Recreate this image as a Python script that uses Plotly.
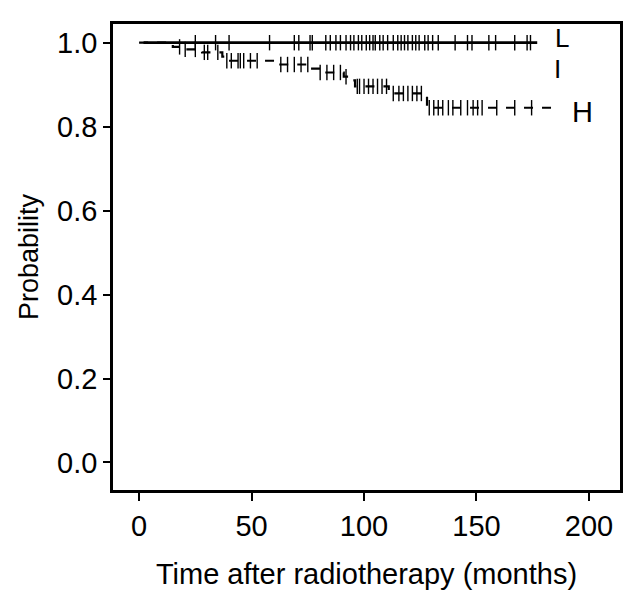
import plotly.graph_objects as go

# Kaplan-Meier step data (time in months, survival probability)
h_times = [0, 15, 20, 28, 37, 38.5, 60, 76, 80, 91, 94, 96, 111, 128, 185]
h_surv = [1.0, 0.99, 0.984, 0.977, 0.967, 0.957, 0.948, 0.938, 0.929, 0.919, 0.91, 0.896, 0.879, 0.845, 0.845]

l_times = [2, 177]
l_surv = [1.0, 1.0]

i_times = [2, 173]
i_surv = [1.0, 1.0]

# censoring marks
l_censor = [25, 34, 40, 58, 69, 71, 76, 77, 83, 85, 87.5, 89.5, 92, 94, 95.5, 97.5, 99, 101,
            102.5, 104, 105, 107, 108.5, 110.5, 113, 115, 116.5, 118, 119.5, 121.5, 123,
            124.5, 127, 128.5, 130.5, 133, 140.5, 146, 148, 155.5, 158.5, 167, 172.5, 174]
h_censor = [18, 20.5, 25, 29, 30.5, 35, 39, 41, 44, 45, 46.5, 49.5, 52.5, 63, 66, 69, 72, 75,
            80.5, 83.5, 86.5, 89.5, 92, 97, 98, 100, 102, 104, 106, 108, 110, 113, 115.5, 117.5,
            119.5, 121.5, 123.5, 125.5, 129, 131, 133, 135, 137.5, 139.5, 143, 146, 148.5, 150.5,
            152.5, 159, 167, 174.5]

x_ticks = [0, 50, 100, 150, 200]
y_ticks = [0.0, 0.2, 0.4, 0.6, 0.8, 1.0]
y_tick_labels = ["0.0", "0.2", "0.4", "0.6", "0.8", "1.0"]

curve_labels = ["L", "I", "H"]
label_x = [188, 186, 197]
label_y = [1.012, 0.938, 0.836]
label_size = [26, 26, 29]


def surv_at(times, surv, t):
    v = surv[0]
    for tt, ss in zip(times, surv):
        if tt <= t:
            v = ss
    return v


fig = go.Figure()
fig.add_trace(go.Scatter(x=l_times, y=l_surv, mode="lines", line=dict(color="black", width=2.8),
                         showlegend=False))
fig.add_trace(go.Scatter(x=i_times, y=i_surv, mode="lines", line=dict(color="black", width=1.5),
                         showlegend=False))
fig.add_trace(go.Scatter(x=h_times, y=h_surv, mode="lines", line_shape="hv",
                         line=dict(color="black", width=2.2, dash="dash"), showlegend=False))
fig.add_trace(go.Scatter(x=l_censor, y=[1.0] * len(l_censor), mode="markers",
                         marker=dict(symbol="line-ns", size=11, line=dict(color="black", width=1.4)),
                         showlegend=False))
fig.add_trace(go.Scatter(x=h_censor, y=[surv_at(h_times, h_surv, t) for t in h_censor], mode="markers",
                         marker=dict(symbol="line-ns", size=11, line=dict(color="black", width=1.4)),
                         showlegend=False))

for txt, lx, ly, ls in zip(curve_labels, label_x, label_y, label_size):
    fig.add_annotation(x=lx, y=ly, text=txt, showarrow=False, xanchor="center", yanchor="middle",
                       font=dict(family="Liberation Sans, Arial", size=ls, color="black"))

fig.update_layout(
    width=632, height=590,
    margin=dict(l=105, r=20, t=16, b=100),
    plot_bgcolor="white", paper_bgcolor="white",
    font=dict(family="Liberation Sans, Arial", color="black"),
)
fig.update_xaxes(range=[-11.6, 213.8], tickvals=x_ticks, ticks="outside", ticklen=8, tickwidth=1.5,
                 tickcolor="black", showline=True, linecolor="black", linewidth=2.5, mirror=True,
                 showgrid=False, zeroline=False, tickfont=dict(size=29),
                 title=dict(text="Time after radiotherapy (months)", font=dict(size=29), standoff=24))
fig.update_yaxes(range=[-0.0656, 1.0445], tickvals=y_ticks, ticktext=y_tick_labels, ticks="outside",
                 ticklen=7, tickwidth=1.5, tickcolor="black", showline=True, linecolor="black",
                 linewidth=2.5, mirror=True, showgrid=False, zeroline=False, tickfont=dict(size=29),
                 title=dict(text="Probability", font=dict(size=27), standoff=11))

fig.write_html("out.html")
